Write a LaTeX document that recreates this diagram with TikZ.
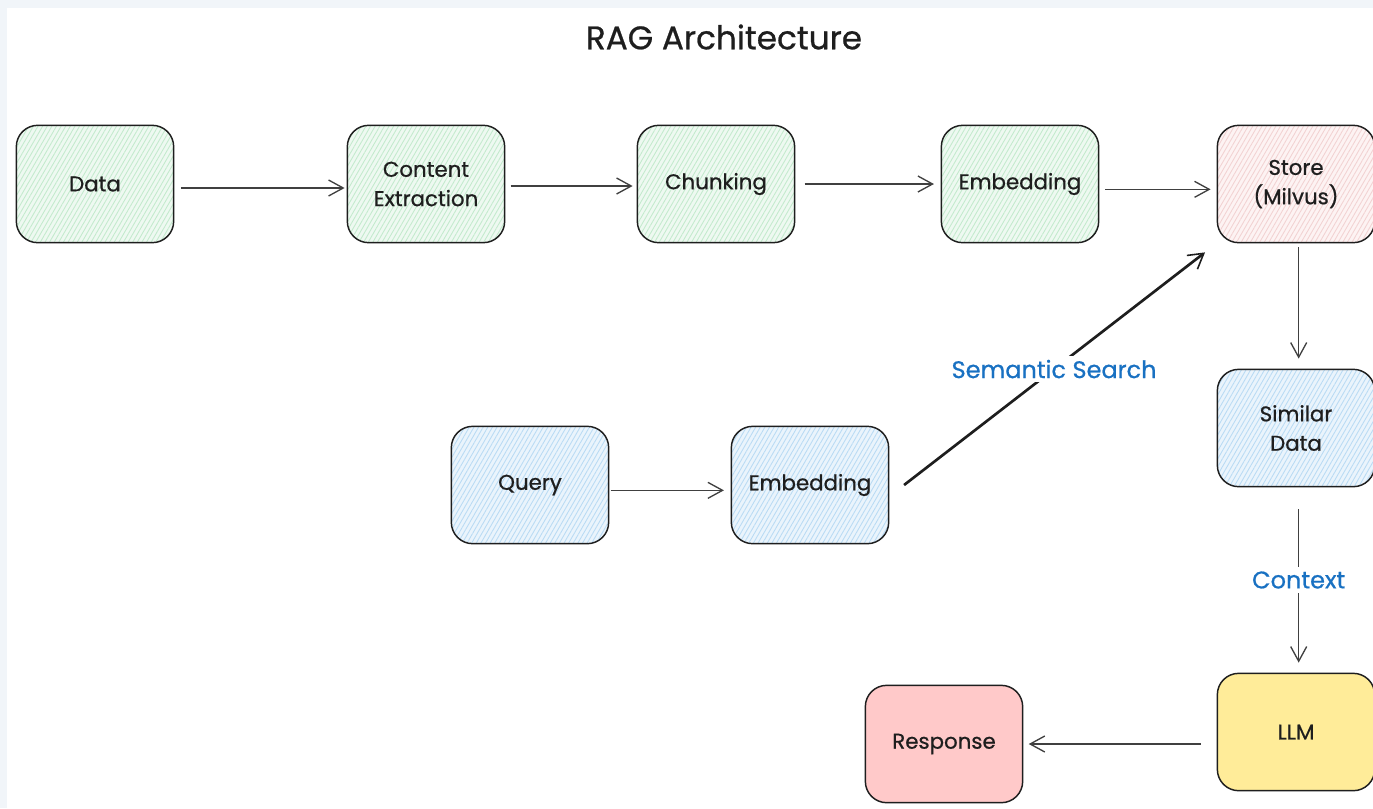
\documentclass[tikz,border=0pt]{standalone}
\usepackage{fontspec}
\setmainfont{Poppins}[FakeBold=0.7]
\usetikzlibrary{arrows.meta,patterns.meta}

\definecolor{ink}{HTML}{1E1E1E}
\definecolor{frame}{HTML}{F1F5F9}
\definecolor{labelblue}{HTML}{1971C2}
\definecolor{greenfill}{HTML}{EEF9F1}
\definecolor{greenhatch}{HTML}{C3EACD}
\definecolor{bluefill}{HTML}{EAF4FC}
\definecolor{bluehatch}{HTML}{B9DBF4}
\definecolor{pinkfill}{HTML}{FDF3F3}
\definecolor{pinkhatch}{HTML}{F2D2D2}
\definecolor{llmfill}{HTML}{FFEC99}
\definecolor{respfill}{HTML}{FFC9C9}

\tikzset{
  box/.style={draw=ink, line width=1.1pt, rounded corners=16pt,
    minimum width=118pt, minimum height=88pt, align=center,
    font=\fontsize{16}{22}\selectfont, text=ink, inner sep=2pt},
  hatched/.style 2 args={preaction={fill=#1},
    pattern={Lines[angle=60,distance=3pt,line width=0.65pt]}, pattern color=#2},
  greenbox/.style={box, hatched={greenfill}{greenhatch}},
  bluebox/.style={box, hatched={bluefill}{bluehatch}},
  pinkbox/.style={box, hatched={pinkfill}{pinkhatch}},
  solidbox/.style={box, fill=#1},
  flow/.style={draw=ink!85, line width=1pt,
    -{Straight Barb[length=11pt,width=12pt,line width=1pt]}},
  search/.style={draw=ink, line width=2pt,
    -{Straight Barb[length=11pt,width=13pt,line width=1.2pt]}},
  edgelabel/.style={fill=white, text=labelblue, inner sep=3pt,
    font=\fontsize{18}{22}\selectfont},
}

\begin{document}
\begin{tikzpicture}[x=0.75pt, y=-0.75pt]
  % canvas with its pale frame on the left and top
  \fill[frame] (0,0) rectangle (1373,808);
  \fill[white] (7,8) rectangle (1373,808);
  \useasboundingbox (0,0) rectangle (1373,808);

  \node[text=ink, font=\fontsize{24.5}{28}\selectfont] (title) at (724,37) {RAG Architecture};

  % ingestion pipeline
  \node[greenbox] (data)    at (95,184)   {Data};
  \node[greenbox] (extract) at (426,184)  {Content\\Extraction};
  \node[greenbox] (chunk)   at (716,184)  {Chunking};
  \node[greenbox] (embed)   at (1020,184) {Embedding};
  \node[pinkbox]  (store)   at (1296,184) {Store\\(Milvus)};

  % query path
  \node[bluebox]  (query)   at (530,485)  {Query};
  \node[bluebox]  (qembed)  at (810,485)  {Embedding};
  \node[bluebox]  (similar) at (1296,428) {Similar\\Data};

  % generation
  \node[solidbox=llmfill]  (llm)      at (1296,732)  {LLM};
  \node[solidbox=respfill] (response) at (944,744)   {Response};

  % connectors
  \draw[flow, shorten <=5pt, shorten >=1.5pt]
    ([yshift=-3pt]data.east) -- ([yshift=-3pt]extract.west);
  \draw[flow, shorten <=4pt, shorten >=3pt]
    ([yshift=-1.5pt]extract.east) -- ([yshift=-1.5pt]chunk.west);
  \draw[flow, shorten <=7pt, shorten >=5pt]
    (chunk.east) -- (embed.west);
  \draw[flow, shorten <=4.5pt, shorten >=4.5pt]
    ([yshift=-4pt]embed.east) -- ([yshift=-4pt]store.west);
  \draw[flow, shorten <=3pt, shorten >=7.5pt]
    ([xshift=2pt]store.south) -- ([xshift=2pt]similar.north);
  \draw[flow, shorten <=16.5pt, shorten >=7.5pt]
    ([xshift=2pt]similar.south) -- node[edgelabel] {Context} ([xshift=2pt]llm.north);
  \draw[flow, shorten <=12pt, shorten >=4pt]
    (llm.west |- response.east) -- (response.east);
  \draw[flow, shorten <=1pt, shorten >=5pt]
    ([yshift=-4pt]query.east) -- ([yshift=-4pt]qembed.west);
  \draw[search, shorten >=11pt]
    ([xshift=11pt]qembed.east) -- node[edgelabel, pos=0.48] {Semantic Search} (store.south west);
\end{tikzpicture}
\end{document}
